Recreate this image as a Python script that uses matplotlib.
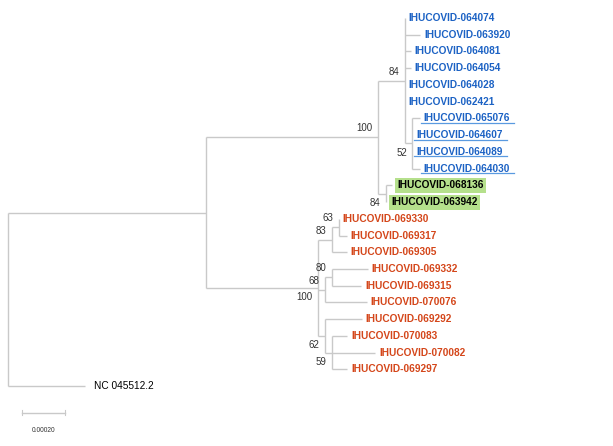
import matplotlib
matplotlib.use("Agg")
import matplotlib.pyplot as plt

# arbre : nom, parent, longueur de branche (unites de 1e-5 subst/site), bootstrap
noms = ["racine", "N1", "NC 045512.2", "N2", "N3",
        "B84", "G84",
        "IHUCOVID-064074", "IHUCOVID-063920", "IHUCOVID-064081", "IHUCOVID-064054",
        "IHUCOVID-064028", "IHUCOVID-062421", "B52",
        "IHUCOVID-065076", "IHUCOVID-064607", "IHUCOVID-064089", "IHUCOVID-064030",
        "IHUCOVID-068136", "IHUCOVID-063942",
        "R83", "R63", "IHUCOVID-069330", "IHUCOVID-069317", "IHUCOVID-069305",
        "R68", "R80", "IHUCOVID-069332", "IHUCOVID-069315", "IHUCOVID-070076",
        "R62", "IHUCOVID-069292", "R59", "IHUCOVID-070083", "IHUCOVID-070082",
        "IHUCOVID-069297"]
parents = [None, "racine", "racine", "N1", "N1",
           "N2", "N2",
           "B84", "B84", "B84", "B84", "B84", "B84", "B84",
           "B52", "B52", "B52", "B52",
           "G84", "G84",
           "N3", "R83", "R63", "R63", "R83",
           "N3", "R68", "R80", "R80", "R68",
           "N3", "R62", "R62", "R59", "R59", "R59"]
longueurs = [0, 92, 36, 80, 52,
             12.5, 3.6,
             0, 7, 2.8, 2.8, 0, 0, 3.6,
             3.3, 0, 0, 3.3,
             2.8, 0,
             6.5, 3.3, 0, 3.7, 7,
             3.3, 3.3, 16.7, 13.5, 19.5,
             3.3, 17.2, 3.3, 7, 20, 7]
bootstrap = {"N2": 100, "N3": 100, "B84": 84, "G84": 84, "B52": 52,
             "R83": 83, "R63": 63, "R80": 80, "R68": 68, "R62": 62, "R59": 59}
# position du chiffre de bootstrap (au-dessus / au-dessous du noeud)
bs_dessus = ["N2", "B84", "R83", "R63", "R80", "R68"]

groupe_bleu = ["IHUCOVID-064074", "IHUCOVID-063920", "IHUCOVID-064081", "IHUCOVID-064054",
               "IHUCOVID-064028", "IHUCOVID-062421", "IHUCOVID-065076", "IHUCOVID-064607",
               "IHUCOVID-064089", "IHUCOVID-064030"]
soulignes = ["IHUCOVID-065076", "IHUCOVID-064607", "IHUCOVID-064089", "IHUCOVID-064030"]
groupe_vert = ["IHUCOVID-068136", "IHUCOVID-063942"]
echelle = 20  # 0.00020

c_branche = "#c9c9c9"
c_bleu = "#1c62c4"
c_rouge = "#d4461a"
c_vert = "#b5e08c"

enfants = {n: [] for n in noms}
for n, p in zip(noms, parents):
    if p is not None:
        enfants[p].append(n)
lg = dict(zip(noms, longueurs))

# coordonnees x (cumul des longueurs) et y (ordre des feuilles)
X, Y = {}, {}
feuilles = []

def placer(n, x0):
    X[n] = x0 + lg[n]
    for e in enfants[n]:
        placer(e, X[n])
    if not enfants[n]:
        Y[n] = len(feuilles)
        feuilles.append(n)
    else:
        Y[n] = (Y[enfants[n][0]] + Y[enfants[n][-1]]) / 2

placer("racine", 0)

fig = plt.figure(figsize=(6.13, 4.46), dpi=100)
ax = fig.add_axes([0, 0, 1, 1])
ax.set_xlim(-3.72, 281.4)
ax.set_ylim(25.58, -1.076)
ax.axis("off")

for n in noms:
    if enfants[n]:
        ys = [Y[e] for e in enfants[n]]
        ax.plot([X[n], X[n]], [min(ys), max(ys)], color=c_branche, lw=1.0, solid_capstyle="butt")
        for e in enfants[n]:
            if lg[e] > 0:
                ax.plot([X[n], X[e]], [Y[e], Y[e]], color=c_branche, lw=1.0, solid_capstyle="butt")

police = "Liberation Sans"
txts = {}
for f in feuilles:
    if f in groupe_bleu:
        t = ax.annotate(f, (X[f], Y[f]), xytext=(3, 0), textcoords="offset points",
                        va="center", ha="left", fontsize=7.3, fontweight="bold",
                        color=c_bleu, family=police)
    elif f in groupe_vert:
        t = ax.annotate(f, (X[f], Y[f]), xytext=(4, 0), textcoords="offset points",
                        va="center", ha="left", fontsize=7.3, fontweight="bold",
                        color="black", family=police,
                        bbox=dict(boxstyle="square,pad=0.25", fc=c_vert, ec="none"))
    elif f.startswith("NC"):
        t = ax.annotate(f, (X[f], Y[f]), xytext=(6, 0), textcoords="offset points",
                        va="center", ha="left", fontsize=7.3, color="black", family=police)
    else:
        t = ax.annotate(f, (X[f], Y[f]), xytext=(3, 0), textcoords="offset points",
                        va="center", ha="left", fontsize=7.3, fontweight="bold",
                        color=c_rouge, family=police)
    txts[f] = t

for n, v in bootstrap.items():
    dy = 6.5 if n in bs_dessus else -6.5
    ax.annotate(str(v), (X[n], Y[n]), xytext=(-4, dy), textcoords="offset points",
                ha="right", va="center", fontsize=7, color="#333333", family=police)

# soulignement des etiquettes
fig.canvas.draw()
r = fig.canvas.get_renderer()
inv = ax.transData.inverted()
for f in soulignes:
    bb = txts[f].get_window_extent(r)
    xa = inv.transform((bb.x0 - 3, bb.y0))[0]
    x1 = inv.transform((bb.x1 + 4, bb.y0))[0]
    yb = inv.transform((bb.x0, bb.y0 + 0.5))[1]
    ax.plot([xa, x1], [yb, yb], color="#5a9ae0", lw=0.9)

# barre d'echelle
ye = 23.6
x0 = 6.5
ax.plot([x0, x0 + echelle], [ye, ye], color=c_branche, lw=1.0)
ax.plot([x0, x0], [ye - 0.15, ye + 0.15], color=c_branche, lw=0.8)
ax.plot([x0 + echelle, x0 + echelle], [ye - 0.15, ye + 0.15], color=c_branche, lw=0.8)
ax.text(x0 + echelle / 2, ye + 1.07, "%.5f" % (echelle * 1e-5), ha="center", va="center",
        fontsize=4.8, color="#333333", family=police)

fig.savefig("out.png", dpi=100)
